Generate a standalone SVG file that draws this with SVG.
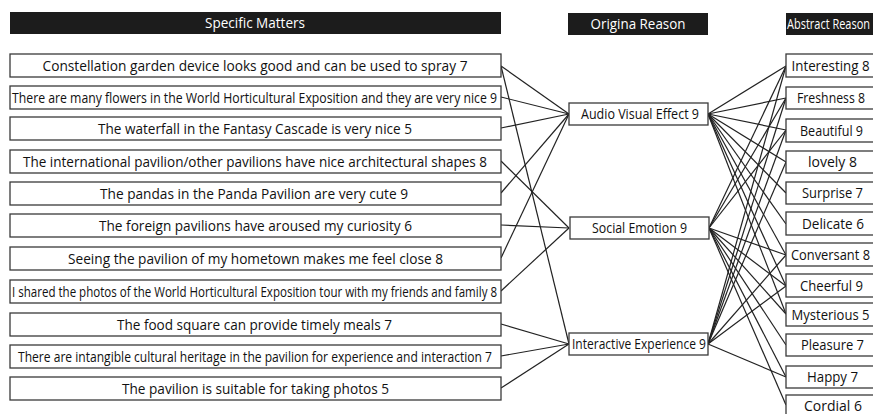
<svg xmlns="http://www.w3.org/2000/svg" width="873" height="414" viewBox="0 0 873 414">
<style>
.hd{fill:#1c1c1c}
.ht{fill:#fff;font-family:"Open Sans","Noto Sans",sans-serif;font-size:14.5px;text-anchor:middle}
.bx{fill:#fff;stroke:#3a3a3a;stroke-width:1.3}
.t{fill:#111;font-family:"Open Sans","Noto Sans",sans-serif;font-size:14.5px;text-anchor:middle}
.c line{stroke:#222;stroke-width:1.2}
</style>
<rect width="873" height="414" fill="#fff"/>
<g id="headers">
<rect class="hd" x="10" y="12" width="491" height="22"/>
<text class="ht" x="255" y="28" textLength="100" lengthAdjust="spacingAndGlyphs">Specific Matters</text>
<rect class="hd" x="568" y="13" width="140" height="22"/>
<text class="ht" x="638" y="29" textLength="95" lengthAdjust="spacingAndGlyphs">Origina Reason</text>
<rect class="hd" x="786" y="13" width="95" height="22"/>
<text class="ht" x="787" y="29" style="text-anchor:start" textLength="83" lengthAdjust="spacingAndGlyphs">Abstract Reason</text>
</g>
<g class="c" id="connectors">
<line x1="501" y1="66" x2="569" y2="114"/>
<line x1="501" y1="66" x2="569" y2="344"/>
<line x1="501" y1="97" x2="569" y2="114"/>
<line x1="501" y1="128" x2="569" y2="114"/>
<line x1="501" y1="161" x2="569" y2="228"/>
<line x1="501" y1="193" x2="569" y2="114"/>
<line x1="501" y1="225" x2="569" y2="228"/>
<line x1="501" y1="258" x2="569" y2="114"/>
<line x1="501" y1="291" x2="569" y2="228"/>
<line x1="501" y1="324" x2="569" y2="344"/>
<line x1="501" y1="356" x2="569" y2="344"/>
<line x1="501" y1="388" x2="569" y2="344"/>
<line x1="708" y1="114" x2="786" y2="66"/>
<line x1="708" y1="114" x2="786" y2="98"/>
<line x1="708" y1="114" x2="786" y2="130"/>
<line x1="708" y1="114" x2="786" y2="162"/>
<line x1="708" y1="114" x2="786" y2="193"/>
<line x1="708" y1="114" x2="786" y2="224"/>
<line x1="708" y1="114" x2="786" y2="255"/>
<line x1="708" y1="114" x2="786" y2="286"/>
<line x1="708" y1="114" x2="786" y2="314"/>
<line x1="709" y1="228" x2="786" y2="66"/>
<line x1="709" y1="228" x2="786" y2="98"/>
<line x1="709" y1="228" x2="786" y2="130"/>
<line x1="709" y1="228" x2="786" y2="255"/>
<line x1="709" y1="228" x2="786" y2="286"/>
<line x1="709" y1="228" x2="786" y2="314"/>
<line x1="709" y1="228" x2="786" y2="345"/>
<line x1="709" y1="228" x2="786" y2="377"/>
<line x1="709" y1="228" x2="786" y2="405"/>
<line x1="708" y1="344" x2="786" y2="66"/>
<line x1="708" y1="344" x2="786" y2="98"/>
<line x1="708" y1="344" x2="786" y2="130"/>
<line x1="708" y1="344" x2="786" y2="162"/>
<line x1="708" y1="344" x2="786" y2="255"/>
<line x1="708" y1="344" x2="786" y2="286"/>
<line x1="708" y1="344" x2="786" y2="377"/>
</g>
<g id="m1"><rect class="bx" x="10" y="54" width="491" height="23"/><text class="t" x="255" y="70.5" textLength="425" lengthAdjust="spacingAndGlyphs">Constellation garden device looks good and can be used to spray 7</text></g>
<g id="m2"><rect class="bx" x="10" y="86" width="491" height="23"/><text class="t" x="254.5" y="102.5" textLength="485" lengthAdjust="spacingAndGlyphs">There are many flowers in the World Horticultural Exposition and they are very nice 9</text></g>
<g id="m3"><rect class="bx" x="10" y="117" width="491" height="23"/><text class="t" x="255" y="133.5" textLength="314" lengthAdjust="spacingAndGlyphs">The waterfall in the Fantasy Cascade is very nice 5</text></g>
<g id="m4"><rect class="bx" x="10" y="150" width="491" height="23"/><text class="t" x="255" y="166.5" textLength="464" lengthAdjust="spacingAndGlyphs">The international pavilion/other pavilions have nice architectural shapes 8</text></g>
<g id="m5"><rect class="bx" x="10" y="182" width="491" height="23"/><text class="t" x="254" y="198.5" textLength="308" lengthAdjust="spacingAndGlyphs">The pandas in the Panda Pavilion are very cute  9</text></g>
<g id="m6"><rect class="bx" x="10" y="214" width="491" height="23"/><text class="t" x="255.5" y="230.5" textLength="313" lengthAdjust="spacingAndGlyphs">The foreign pavilions have aroused my curiosity 6</text></g>
<g id="m7"><rect class="bx" x="10" y="247" width="491" height="23"/><text class="t" x="255.5" y="263.5" textLength="375" lengthAdjust="spacingAndGlyphs">Seeing the pavilion of my hometown makes me feel close 8</text></g>
<g id="m8"><rect class="bx" x="10" y="280" width="491" height="23"/><text class="t" x="254.5" y="296.5" textLength="485" lengthAdjust="spacingAndGlyphs">I shared the photos of the World Horticultural Exposition tour with my friends and family 8</text></g>
<g id="m9"><rect class="bx" x="10" y="313" width="491" height="23"/><text class="t" x="254.5" y="329.5" textLength="275" lengthAdjust="spacingAndGlyphs">The food square can provide timely meals 7</text></g>
<g id="m10"><rect class="bx" x="10" y="345" width="491" height="23"/><text class="t" x="255" y="361.5" textLength="474" lengthAdjust="spacingAndGlyphs">There are intangible cultural heritage in the pavilion for experience and interaction 7</text></g>
<g id="m11"><rect class="bx" x="10" y="377" width="491" height="23"/><text class="t" x="255.5" y="393.5" textLength="267" lengthAdjust="spacingAndGlyphs">The pavilion is suitable for taking photos 5</text></g>
<g id="o1"><rect class="bx" x="569" y="103" width="139" height="22"/><text class="t" x="640" y="119" textLength="118" lengthAdjust="spacingAndGlyphs">Audio Visual Effect 9</text></g>
<g id="o2"><rect class="bx" x="570" y="217" width="139" height="22"/><text class="t" x="639.5" y="233" textLength="95" lengthAdjust="spacingAndGlyphs">Social Emotion 9</text></g>
<g id="o3"><rect class="bx" x="569" y="333" width="139" height="22"/><text class="t" x="639" y="349" textLength="134" lengthAdjust="spacingAndGlyphs">Interactive Experience 9</text></g>
<g id="a1"><rect class="bx" x="786" y="54" width="95" height="23"/><text class="t" x="830.5" y="70.5" textLength="78" lengthAdjust="spacingAndGlyphs">Interesting 8</text></g>
<g id="a2"><rect class="bx" x="786" y="87" width="95" height="22"/><text class="t" x="831" y="103" textLength="68" lengthAdjust="spacingAndGlyphs">Freshness 8</text></g>
<g id="a3"><rect class="bx" x="786" y="119" width="95" height="23"/><text class="t" x="831.5" y="135.5" textLength="63" lengthAdjust="spacingAndGlyphs">Beautiful 9</text></g>
<g id="a4"><rect class="bx" x="786" y="151" width="95" height="22"/><text class="t" x="832.5" y="167" textLength="49" lengthAdjust="spacingAndGlyphs">lovely 8</text></g>
<g id="a5"><rect class="bx" x="786" y="182" width="95" height="22"/><text class="t" x="832.5" y="198" textLength="61" lengthAdjust="spacingAndGlyphs">Surprise 7</text></g>
<g id="a6"><rect class="bx" x="786" y="212" width="95" height="23"/><text class="t" x="833" y="228.5" textLength="62" lengthAdjust="spacingAndGlyphs">Delicate 6</text></g>
<g id="a7"><rect class="bx" x="786" y="243" width="95" height="23"/><text class="t" x="830.5" y="259.5" textLength="79" lengthAdjust="spacingAndGlyphs">Conversant 8</text></g>
<g id="a8"><rect class="bx" x="786" y="274" width="95" height="23"/><text class="t" x="831.5" y="290.5" textLength="63" lengthAdjust="spacingAndGlyphs">Cheerful 9</text></g>
<g id="a9"><rect class="bx" x="786" y="303" width="95" height="23"/><text class="t" x="830.5" y="319.5" textLength="78" lengthAdjust="spacingAndGlyphs">Mysterious 5</text></g>
<g id="a10"><rect class="bx" x="786" y="334" width="95" height="22"/><text class="t" x="832.5" y="350" textLength="63" lengthAdjust="spacingAndGlyphs">Pleasure 7</text></g>
<g id="a11"><rect class="bx" x="786" y="366" width="95" height="22"/><text class="t" x="832.5" y="382" textLength="51" lengthAdjust="spacingAndGlyphs">Happy 7</text></g>
<g id="a12"><rect class="bx" x="786" y="395" width="95" height="24"/><text class="t" x="833" y="410.5" textLength="58" lengthAdjust="spacingAndGlyphs">Cordial 6</text></g>
</svg>
